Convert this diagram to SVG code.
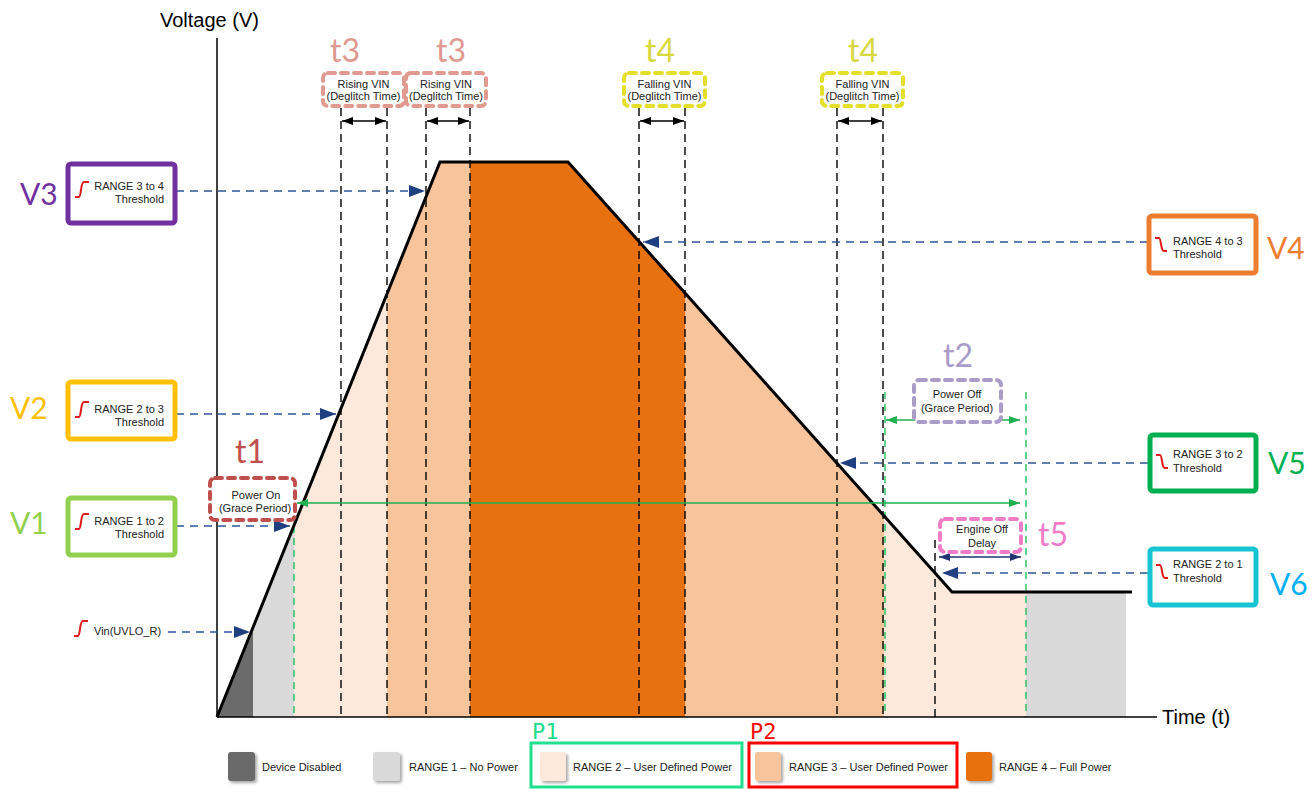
<svg xmlns="http://www.w3.org/2000/svg" width="1315" height="789" viewBox="0 0 1315 789">
<style>
.bx{font-family:"Liberation Sans",Arial,sans-serif;font-size:11px;fill:#222}
.ax{font-family:"Liberation Sans",Arial,sans-serif;font-size:20px;fill:#000}
.vl{font-family:Lato,"Open Sans",sans-serif;font-size:30px}
.tl{font-family:Lato,"Open Sans",sans-serif;font-size:32px}
.pl{font-family:"DejaVu Sans Mono",monospace;font-size:22px}
.dbox{fill:#fff;stroke-width:4;stroke-dasharray:7 6;stroke-linecap:round}
.vbox{fill:#fff;stroke-width:5}
.blk{stroke:#000;stroke-width:1.4;stroke-dasharray:8 5;fill:none}
.grn{stroke:#22c35e;stroke-width:1.4;stroke-dasharray:7 5;fill:none}
.blu{stroke:#2e5597;stroke-width:1.3;stroke-dasharray:8 6;fill:none}
.ico{stroke:#e01a1a;stroke-width:2;fill:none}
.leg{font-family:"Liberation Sans",Arial,sans-serif;font-size:11px;fill:#222}
</style>
<defs>
<marker id="mb" viewBox="0 0 16 12" refX="16" refY="6" markerWidth="16" markerHeight="12" markerUnits="userSpaceOnUse" orient="auto"><path d="M0,0 L16,6 L0,12 z" fill="#1f4080"/></marker>
<marker id="mk" viewBox="0 0 11 8" refX="11" refY="4" markerWidth="11" markerHeight="8" markerUnits="userSpaceOnUse" orient="auto-start-reverse"><path d="M0,0 L11,4 L0,8 z" fill="#000"/></marker>
<marker id="mg" viewBox="0 0 11 8" refX="11" refY="4" markerWidth="11" markerHeight="8" markerUnits="userSpaceOnUse" orient="auto-start-reverse"><path d="M0,0 L11,4 L0,8 z" fill="#1fb050"/></marker>
<marker id="mn" viewBox="0 0 11 8" refX="11" refY="4" markerWidth="11" markerHeight="8" markerUnits="userSpaceOnUse" orient="auto-start-reverse"><path d="M0,0 L11,4 L0,8 z" fill="#1f3470"/></marker>
<filter id="sh" x="-30%" y="-30%" width="160%" height="160%"><feDropShadow dx="2" dy="2" stdDeviation="1.5" flood-color="#000" flood-opacity="0.35"/></filter>
</defs>
<rect width="1315" height="789" fill="#fff"/>

<g id="regions">
<polygon points="217,717 253,627.4 253,717" fill="#6b6b6b"/>
<polygon points="253,717 253,627.4 294,525.4 294,717" fill="#d9d9d9"/>
<polygon points="294,717 294,525.4 387,293.9 387,717" fill="#fde9dc"/>
<polygon points="387,717 387,293.9 440,162 470,162 470,717" fill="#f8c49c"/>
<polygon points="470,717 470,162 568,162 685,293 685,717" fill="#e8710f"/>
<polygon points="685,717 685,293 884,515.9 884,717" fill="#f8c49c"/>
<polygon points="884,717 884,515.9 952,592 1026,592 1026,717" fill="#fde9dc"/>
<polygon points="1026,717 1026,592 1126,592 1126,717" fill="#d9d9d9"/>
</g>

<g id="guides">
<line class="blk" x1="341" y1="108" x2="341" y2="717"/>
<line class="blk" x1="387" y1="108" x2="387" y2="717"/>
<line class="blk" x1="426" y1="108" x2="426" y2="717"/>
<line class="blk" x1="470" y1="108" x2="470" y2="717"/>
<line class="blk" x1="639" y1="108" x2="639" y2="717"/>
<line class="blk" x1="685" y1="108" x2="685" y2="717"/>
<line class="blk" x1="837" y1="108" x2="837" y2="717"/>
<line class="blk" x1="883" y1="108" x2="883" y2="717"/>
<line class="blk" x1="935" y1="540" x2="935" y2="717"/>
<line class="grn" x1="294" y1="478" x2="294" y2="717"/>
<line class="grn" x1="885" y1="392" x2="885" y2="717"/>
<line class="grn" x1="1026" y1="392" x2="1026" y2="717"/>
</g>

<g id="axes">
<line x1="217" y1="38" x2="217" y2="717" stroke="#000" stroke-width="1.5"/>
<line x1="217" y1="717" x2="1157" y2="717" stroke="#000" stroke-width="1.5"/>
<text class="ax" x="160" y="27">Voltage (V)</text>
<text class="ax" x="1162" y="724">Time (t)</text>
</g>

<polyline id="curve" points="217,717 440,162 568,162 952,592 1132,592" fill="none" stroke="#000" stroke-width="3" stroke-linejoin="miter"/>

<g id="connectors">
<line class="blu" x1="176" y1="191" x2="425" y2="191" marker-end="url(#mb)"/>
<line class="blu" x1="176" y1="414" x2="336" y2="414" marker-end="url(#mb)"/>
<line class="blu" x1="176" y1="526" x2="290" y2="526" marker-end="url(#mb)"/>
<line class="blu" x1="168" y1="632" x2="250" y2="632" marker-end="url(#mb)"/>
<line class="blu" x1="1148" y1="242" x2="643" y2="242" marker-end="url(#mb)"/>
<line class="blu" x1="1148" y1="463" x2="840" y2="463" marker-end="url(#mb)"/>
<line class="blu" x1="1148" y1="573" x2="942" y2="573" marker-end="url(#mb)"/>
<line x1="342" y1="121" x2="386" y2="121" stroke="#000" stroke-width="1.5" marker-start="url(#mk)" marker-end="url(#mk)"/>
<line x1="427" y1="121" x2="469" y2="121" stroke="#000" stroke-width="1.5" marker-start="url(#mk)" marker-end="url(#mk)"/>
<line x1="640" y1="121" x2="684" y2="121" stroke="#000" stroke-width="1.5" marker-start="url(#mk)" marker-end="url(#mk)"/>
<line x1="838" y1="121" x2="882" y2="121" stroke="#000" stroke-width="1.5" marker-start="url(#mk)" marker-end="url(#mk)"/>
<line x1="297" y1="503" x2="1020" y2="503" stroke="#1fb050" stroke-width="1.4" marker-start="url(#mg)" marker-end="url(#mg)"/>
<line x1="886" y1="420" x2="1020" y2="420" stroke="#1fb050" stroke-width="1.4" marker-start="url(#mg)" marker-end="url(#mg)"/>
<line x1="939" y1="557" x2="1021" y2="557" stroke="#1f3470" stroke-width="1.4" marker-start="url(#mn)" marker-end="url(#mn)"/>
</g>

<g id="t3a">
<text class="tl" x="345" y="62" text-anchor="middle" fill="#e09a90">t3</text>
<rect class="dbox" x="323" y="73" width="81" height="33" rx="5" stroke="#e09a90"/>
<text class="bx" x="363.5" y="88" text-anchor="middle">Rising VIN</text>
<text class="bx" x="363.5" y="100" text-anchor="middle">(Deglitch Time)</text>
</g>
<g id="t3b">
<text class="tl" x="451" y="62" text-anchor="middle" fill="#e09a90">t3</text>
<rect class="dbox" x="406" y="73" width="80" height="33" rx="5" stroke="#e09a90"/>
<text class="bx" x="446" y="88" text-anchor="middle">Rising VIN</text>
<text class="bx" x="446" y="100" text-anchor="middle">(Deglitch Time)</text>
</g>
<g id="t4a">
<text class="tl" x="660" y="62" text-anchor="middle" fill="#d8d840">t4</text>
<rect class="dbox" x="624" y="73" width="81" height="33" rx="5" stroke="#e4df2a"/>
<text class="bx" x="664.5" y="88" text-anchor="middle">Falling VIN</text>
<text class="bx" x="664.5" y="100" text-anchor="middle">(Deglitch Time)</text>
</g>
<g id="t4b">
<text class="tl" x="863" y="62" text-anchor="middle" fill="#d8d840">t4</text>
<rect class="dbox" x="822" y="73" width="81" height="33" rx="5" stroke="#e4df2a"/>
<text class="bx" x="862.5" y="88" text-anchor="middle">Falling VIN</text>
<text class="bx" x="862.5" y="100" text-anchor="middle">(Deglitch Time)</text>
</g>
<g id="t1">
<text class="tl" x="250" y="463" text-anchor="middle" fill="#c0504d">t1</text>
<rect class="dbox" x="210" y="478" width="85" height="42" rx="5" stroke="#c0504d"/>
<text class="bx" x="256" y="499" text-anchor="middle">Power On</text>
<text class="bx" x="255" y="512" text-anchor="middle">(Grace Period)</text>
</g>
<g id="t2">
<text class="tl" x="958" y="367" text-anchor="middle" fill="#a99cc9">t2</text>
<rect class="dbox" x="914" y="380" width="87" height="42" rx="5" stroke="#a99cc9"/>
<text class="bx" x="957" y="398" text-anchor="middle">Power Off</text>
<text class="bx" x="957" y="412" text-anchor="middle">(Grace Period)</text>
</g>
<g id="t5">
<text class="tl" x="1053" y="546" text-anchor="middle" fill="#f07cc8">t5</text>
<rect class="dbox" x="940" y="519" width="81" height="33" rx="5" stroke="#f07cc8"/>
<text class="bx" x="982" y="533" text-anchor="middle">Engine Off</text>
<text class="bx" x="982" y="547" text-anchor="middle">Delay</text>
</g>

<g id="v3">
<text class="vl" x="20" y="205" fill="#7030a0">V3</text>
<rect class="vbox" x="68" y="164" width="107" height="59" rx="3" stroke="#7030a0"/>
<path class="ico" d="M75,197 H79 Q80,197 81,190 Q82,182 84,182 H89"/>
<text class="bx" x="164" y="190" text-anchor="end">RANGE 3 to 4</text>
<text class="bx" x="164" y="203" text-anchor="end">Threshold</text>
</g>
<g id="v2">
<text class="vl" x="10" y="419" fill="#ffc000">V2</text>
<rect class="vbox" x="68" y="382" width="107" height="57" rx="3" stroke="#ffc000"/>
<path class="ico" d="M75,417 H79 Q80,417 81,410 Q82,402 84,402 H89"/>
<text class="bx" x="164" y="413" text-anchor="end">RANGE 2 to 3</text>
<text class="bx" x="164" y="426" text-anchor="end">Threshold</text>
</g>
<g id="v1">
<text class="vl" x="10" y="534" fill="#92d050">V1</text>
<rect class="vbox" x="68" y="498" width="107" height="57" rx="3" stroke="#92d050"/>
<path class="ico" d="M75,529 H79 Q80,529 81,522 Q82,514 84,514 H89"/>
<text class="bx" x="164" y="525" text-anchor="end">RANGE 1 to 2</text>
<text class="bx" x="164" y="538" text-anchor="end">Threshold</text>
</g>
<g id="uvlo">
<path class="ico" d="M74,636 H78 Q79,636 80,629 Q81,621 83,621 H88"/>
<text class="bx" x="94" y="635">Vin(UVLO_R)</text>
</g>
<g id="v4">
<rect class="vbox" x="1149" y="216" width="107" height="57" rx="3" stroke="#ed7d31"/>
<path class="ico" d="M1155,238 H1159 Q1160,238 1161,244 Q1162,251 1164,251 H1167"/>
<text class="bx" x="1173" y="245">RANGE 4 to 3</text>
<text class="bx" x="1173" y="258">Threshold</text>
<text class="vl" x="1267" y="259" fill="#ed7d31">V4</text>
</g>
<g id="v5">
<rect class="vbox" x="1150" y="435" width="106" height="56" rx="3" stroke="#00b050"/>
<path class="ico" d="M1156,455 H1160 Q1161,455 1162,461 Q1163,468 1165,468 H1168"/>
<text class="bx" x="1173" y="458">RANGE 3 to 2</text>
<text class="bx" x="1173" y="472">Threshold</text>
<text class="vl" x="1268" y="474" fill="#00b050">V5</text>
</g>
<g id="v6">
<rect class="vbox" x="1150" y="549" width="106" height="56" rx="3" stroke="#17c4d4"/>
<path class="ico" d="M1156,565 H1160 Q1161,565 1162,571 Q1163,578 1165,578 H1168"/>
<text class="bx" x="1173" y="568">RANGE 2 to 1</text>
<text class="bx" x="1173" y="582">Threshold</text>
<text class="vl" x="1270" y="595" fill="#00b0f0">V6</text>
</g>

<g id="legend">
<rect x="228" y="752" width="27" height="29" rx="3" fill="#6b6b6b" filter="url(#sh)"/>
<text class="leg" x="262" y="771">Device Disabled</text>
<rect x="373" y="752" width="27" height="29" rx="3" fill="#d9d9d9" filter="url(#sh)"/>
<text class="leg" x="409" y="771">RANGE 1 – No Power</text>
</g>
<g id="p1">
<text class="pl" x="532" y="739" fill="#20dc8c">P1</text>
<rect x="531" y="743" width="211" height="44" fill="none" stroke="#20e090" stroke-width="3"/>
<rect x="540" y="752" width="26" height="29" rx="3" fill="#fde9dc" filter="url(#sh)"/>
<text class="leg" x="573" y="771">RANGE 2 – User Defined Power</text>
</g>
<g id="p2">
<text class="pl" x="750" y="739" fill="#ff0000">P2</text>
<rect x="749" y="743" width="208" height="44" fill="none" stroke="#ff0000" stroke-width="3"/>
<rect x="755" y="752" width="26" height="29" rx="3" fill="#f8c49c" filter="url(#sh)"/>
<text class="leg" x="789" y="771">RANGE 3 – User Defined Power</text>
</g>
<g id="legend4">
<rect x="966" y="752" width="26" height="29" rx="3" fill="#e8710f" filter="url(#sh)"/>
<text class="leg" x="999" y="771">RANGE 4 – Full Power</text>
</g>
</svg>
